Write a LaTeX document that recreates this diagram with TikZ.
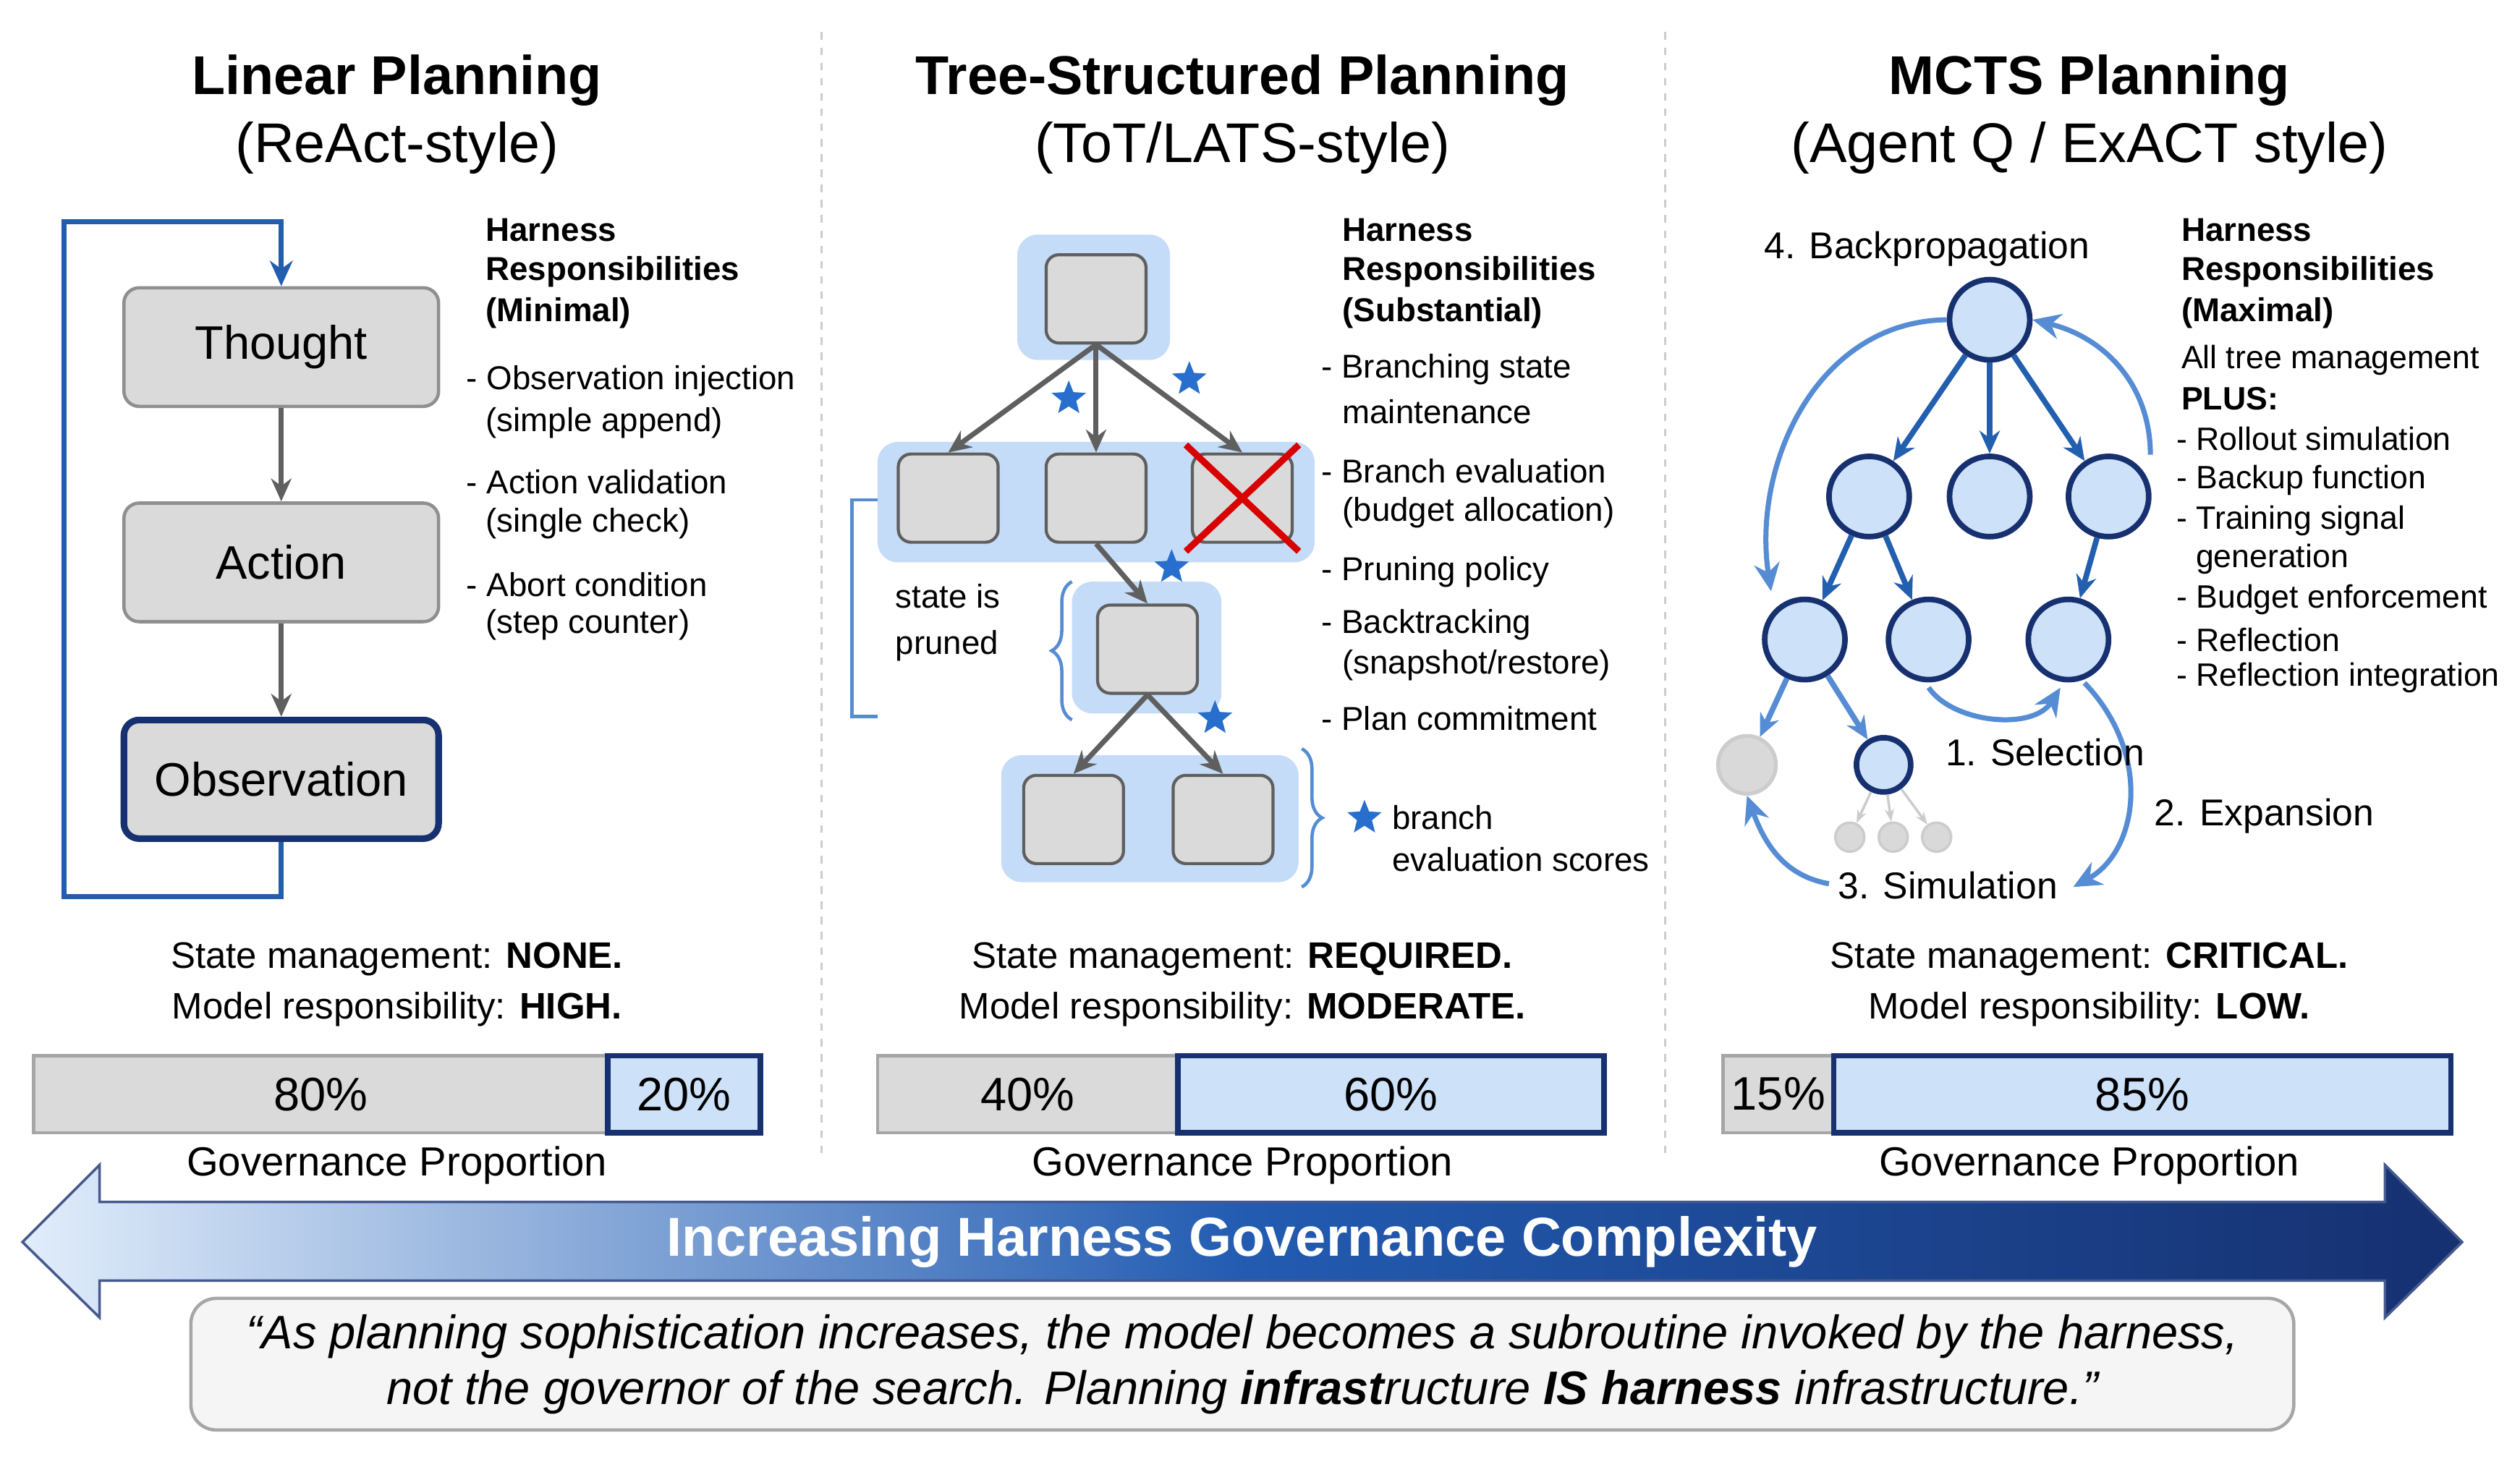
\documentclass[tikz,border=0pt]{standalone}
\usepackage{fontspec}
\setmainfont{Liberation Sans}
\usetikzlibrary{arrows.meta, decorations.pathreplacing, shapes.geometric}
\definecolor{navy}{RGB}{22,48,112}
\definecolor{lightblue}{RGB}{205,225,248}
\definecolor{hlblue}{RGB}{196,220,248}
\definecolor{boxgray}{RGB}{218,218,218}
\definecolor{linegray}{RGB}{95,95,95}
\definecolor{starblue}{RGB}{40,110,205}
\definecolor{curveblue}{RGB}{85,140,212}
\definecolor{treeblue}{RGB}{35,95,175}
\tikzset{
  title/.style={font=\fontsize{21.5}{26}\selectfont\bfseries},
  subtitle/.style={font=\fontsize{22}{26}\selectfont},
  txt/.style={font=\fontsize{13}{15}\selectfont, anchor=west, inner sep=0pt},
  btxt/.style={txt, font=\fontsize{13}{15}\selectfont\bfseries},
  stxt/.style={txt, font=\fontsize{12.7}{15}\selectfont},
  state/.style={font=\fontsize{14.5}{17}\selectfont, inner sep=0pt},
  stepbox/.style={rounded corners=6pt, draw=linegray!70, line width=1.3pt, fill=boxgray,
    minimum width=4.35cm, minimum height=1.64cm, font=\fontsize{18.5}{22}\selectfont},
  sq/.style={rounded corners=5pt, draw=linegray, line width=1.2pt, fill=boxgray,
    minimum width=1.38cm, minimum height=1.22cm},
  hl/.style={fill=hlblue, rounded corners=8pt},
  garrow/.style={-{Stealth[length=9pt,width=8pt]}, draw=linegray, line width=2pt},
  tarrow/.style={-{Stealth[length=9pt,width=8pt]}, draw=treeblue, line width=2.2pt},
  carrow/.style={-{Stealth[length=11pt,width=10pt]}, draw=curveblue, line width=2pt},
  mnode/.style={circle, draw=navy, line width=2.2pt, fill=lightblue, minimum size=1.11cm, inner sep=0pt},
  bstar/.style={star, star points=5, star point ratio=2.3, fill=starblue, inner sep=0pt, minimum size=0.5cm},
  bar/.style={minimum height=1.07cm, inner sep=0pt, font=\fontsize{18.5}{22}\selectfont},
  brace/.style={draw=curveblue, line width=1.3pt},
  steplabel/.style={font=\fontsize{14.7}{17}\selectfont},
}
\begin{document}
\begin{tikzpicture}[x=0.02221cm, y=-0.02221cm]
\useasboundingbox (0,0) rectangle (1568,908);
% separators
\draw[gray!40, dashed, line width=0.8pt] (511,20) -- (511,720) (1036,20) -- (1036,720);
% titles
\node[title] (t1) at (247,50) {Linear Planning};
\node[subtitle] (s1) at (247,92) {(ReAct-style)};
\node[title] (t2) at (773,50) {Tree-Structured Planning};
\node[subtitle] (s2) at (773,92) {(ToT/LATS-style)};
\node[title] (t3) at (1300,50) {MCTS Planning};
\node[subtitle] (s3) at (1300,92) {(Agent Q / ExACT style)};

% ---- linear planning
\node[stepbox] (thought) at (175,216) {Thought};
\node[stepbox] (action) at (175,350) {Action};
\node[stepbox, draw=navy, line width=2.6pt] (obs) at (175,485) {Observation};
\draw[garrow] (thought) -- (action);
\draw[garrow] (action) -- (obs);
\coordinate (lp1) at (40,558);
\coordinate (lp2) at (40,138);
\draw[draw=starblue!85!black, line width=2pt, -{Stealth[length=10pt,width=9pt]}]
  (obs.south) |- (lp1) -- (lp2) -| (thought.north);
\node[btxt] (h1a) at (302,143) {Harness};
\node[btxt] (h1b) at (302,169) {Responsibilities};
\node[btxt] (h1c) at (302,195) {(Minimal)};
\foreach \y/\s [count=\i] in {237/- Observation injection, 300/- Action validation, 364/- Abort condition}
  \node[txt] (la\i) at (290,\y) {\s};
\foreach \y/\s [count=\i] in {263/(simple append), 326/(single check), 389/(step counter)}
  \node[txt] (lb\i) at (302,\y) {\s};

% ---- tree planning
\fill[hl] (633,146) rectangle (728,224);
\fill[hl] (546,275) rectangle (818,350);
\fill[hl] (667,362) rectangle (760,444);
\fill[hl] (623,470) rectangle (808,549);
\node[sq] (r) at (682,186) {};
\node[sq] (a) at (590,310) {};
\node[sq] (b) at (682,310) {};
\node[sq] (c) at (773,310) {};
\node[sq] (m) at (714,404) {};
\node[sq] (d) at (668,510) {};
\node[sq] (e) at (761,510) {};
\draw[red!85!black, line width=2.6pt] ([xshift=-2pt,yshift=3pt]c.north west) -- ([xshift=2pt,yshift=-3pt]c.south east)
  ([xshift=2pt,yshift=3pt]c.north east) -- ([xshift=-2pt,yshift=-3pt]c.south west);
\draw[garrow] (r.south) -- (a.north);
\draw[garrow] (r.south) -- (b.north);
\draw[garrow] (r.south) -- (c.north);
\draw[garrow] (b.south) -- (m.north);
\draw[garrow] (m.south) -- (d.north);
\draw[garrow] (m.south) -- (e.north);
\foreach \x/\y [count=\i] in {665/248, 740/236, 729/353, 756/447, 849/509}
  \node[bstar] (st\i) at (\x,\y) {};
\coordinate (pb1) at (546,311);
\coordinate (pb2) at (546,446);
\draw[brace] (pb1) -- ++(-16,0) |- (pb2);
\draw[brace, decorate, decoration={brace, amplitude=8pt}] (667,448) -- (667,362);
\draw[brace, decorate, decoration={brace, amplitude=8pt}] (810,466) -- (810,552);
\node[txt] (pr1) at (557,371) {state is};
\node[txt] (pr2) at (557,402) {pruned};
\node[txt] (sc1) at (866,509) {branch};
\node[txt] (sc2) at (866,535) {evaluation scores};
\node[btxt] (h2a) at (835,143) {Harness};
\node[btxt] (h2b) at (835,169) {Responsibilities};
\node[btxt] (h2c) at (835,195) {(Substantial)};
\foreach \y/\s [count=\i] in {230/- Branching state, 293/- Branch evaluation, 356/- Pruning policy, 389/- Backtracking, 447/- Plan commitment}
  \node[txt] (ta\i) at (822,\y) {\s};
\foreach \y/\s [count=\i] in {256/maintenance, 319/(budget allocation), 414/{(snapshot/restore)}}
  \node[txt] (tb\i) at (835,\y) {\s};

% ---- mcts planning
\node[mnode] (n0) at (1238,199) {};
\node[mnode] (n1) at (1163,309) {};
\node[mnode] (n2) at (1238,309) {};
\node[mnode] (n3) at (1312,309) {};
\node[mnode] (n4) at (1123,398) {};
\node[mnode] (n5) at (1200,398) {};
\node[mnode] (n6) at (1287,398) {};
\node[circle, fill=gray!30, draw=gray!40, line width=1.5pt, minimum size=0.8cm] (g0) at (1087,476) {};
\node[mnode, minimum size=0.75cm] (n7) at (1172,476) {};
\foreach \x [count=\i] in {1151,1178,1205}
  \node[circle, fill=gray!30, draw=gray!40, line width=1pt, minimum size=0.4cm] (g\i) at (\x,521) {};
\draw[tarrow] (n0) -- (n1);
\draw[tarrow] (n0) -- (n2);
\draw[tarrow] (n0) -- (n3);
\draw[tarrow] (n1) -- (n4);
\draw[tarrow] (n1) -- (n5);
\draw[tarrow] (n3) -- (n6);
\draw[tarrow, draw=curveblue] (n4) -- (g0);
\draw[tarrow, draw=curveblue] (n4) -- (n7);
\foreach \i in {1,2,3}
  \draw[-{Stealth[length=5pt]}, gray!40, line width=1pt] (n7) -- (g\i);
\draw[carrow] (n0.west) .. controls (1130,200) and (1090,290) .. (1102,368);
\draw[carrow] (1338,283) .. controls (1338,240) and (1310,210) .. (n0.east);
\draw[carrow] ([yshift=-2pt]n5.south) .. controls (1215,450) and (1265,455) .. (1282,428);
\draw[carrow] (1297,425) .. controls (1340,470) and (1330,530) .. (1290,552);
\draw[carrow] (1138,550) .. controls (1110,545) and (1098,525) .. (g0.south);
\node[steplabel] (bp) at (1199,155) {4. Backpropagation};
\node[steplabel, anchor=west] (sel) at (1205,468) {1. Selection};
\node[steplabel, anchor=west] (exp) at (1335,508) {2. Expansion};
\node[steplabel] (sim) at (1212,551) {3. Simulation};
\node[btxt] (h3a) at (1357,143) {Harness};
\node[btxt] (h3b) at (1357,169) {Responsibilities};
\node[btxt] (h3c) at (1357,195) {(Maximal)};
\node[stxt] (h3d) at (1357,224) {All tree management};
\node[stxt, font=\fontsize{12.7}{15}\selectfont\bfseries] (h3e) at (1357,248) {PLUS:};
\foreach \y/\s [count=\i] in {273/- Rollout simulation, 299/- Backup function, 324/- Training signal, 373/- Budget enforcement, 398/- Reflection, 422/- Reflection integration}
  \node[stxt] (ma\i) at (1354,\y) {\s};
\node[stxt] (mb1) at (1366,348) {generation};

% ---- state lines and bars
\foreach \x/\a/\b [count=\i] in {247/NONE./HIGH., 773/REQUIRED./MODERATE., 1300/CRITICAL./LOW.}{
  \node[state] (sm\i) at (\x,597) {State management: \textbf{\a}};
  \node[state] (mr\i) at (\x,628) {Model responsibility: \textbf{\b}};
  \node[state, font=\fontsize{16}{19}\selectfont] (gp\i) at (\x,725) {Governance Proportion};
}
\foreach \l/\m/\r/\p/\q [count=\i] in {21/378/473/80\%/20\%, 546/733/998/40\%/60\%, 1072/1141/1525/15\%/85\%}{
  \draw[fill=boxgray, draw=gray!70, line width=1.3pt] (\l,657) rectangle (\m,705);
  \draw[fill=lightblue, draw=navy, line width=2.2pt] (\m,657) rectangle (\r,705);
  \node[bar] (bl\i) at ({(\l+\m)/2},681) {\p};
  \node[bar] (br\i) at ({(\m+\r)/2},681) {\q};
}

% ---- big arrow
\draw[left color=lightblue!60, right color=navy, middle color=starblue!70!navy, draw=navy!80, line width=1pt]
  (14,773) -- (62,725) -- (62,748) -- (1484,748) -- (1484,725) -- (1532,773)
  -- (1484,820) -- (1484,797) -- (62,797) -- (62,820) -- cycle;
\node[text=white, font=\fontsize{21.6}{26}\selectfont\bfseries] (big) at (773,773) {Increasing Harness Governance Complexity};

% ---- quote
\node[draw=gray!70, fill=gray!8, line width=1.3pt, rounded corners=10pt, minimum width=29.07cm,
  minimum height=1.82cm, align=center, font=\fontsize{18.5}{22}\selectfont\itshape] (quote) at (773,849)
  {“As planning sophistication increases, the model becomes a subroutine invoked by the harness,\\
   not the governor of the search. Planning \textbf{infrast}ructure \textbf{IS harness} infrastructure.”};
\end{tikzpicture}
\end{document}
